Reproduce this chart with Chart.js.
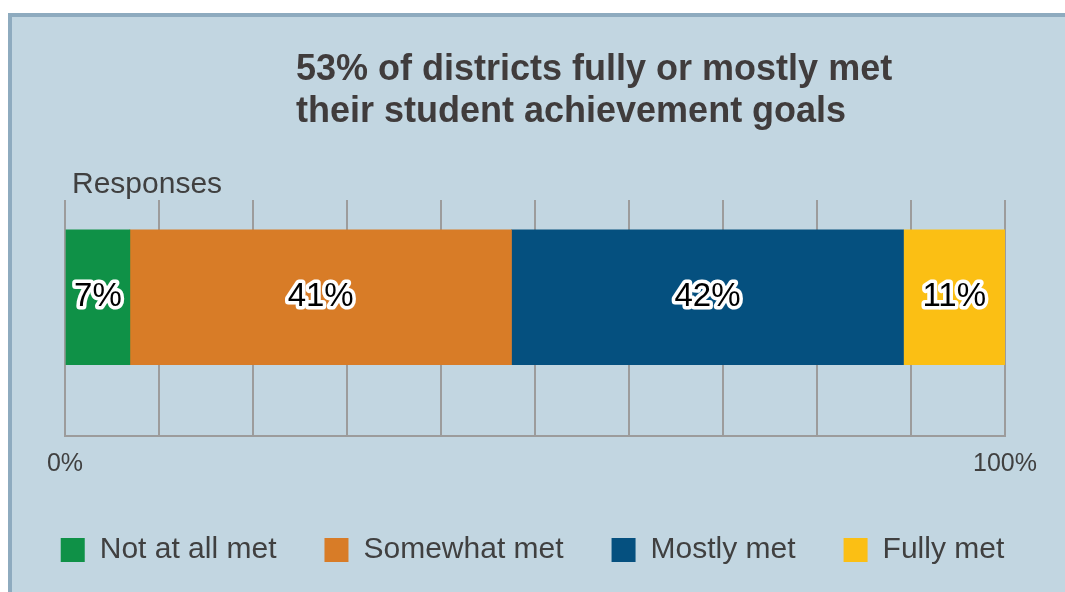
<!DOCTYPE html>
<html>
<head>
<meta charset="utf-8">
<script src="https://cdn.jsdelivr.net/npm/chart.js@4/dist/chart.umd.min.js"></script>
<style>
  body { margin: 0; background: #ffffff; }
  #panel {
    position: absolute; left: 8px; top: 13px; right: 0; bottom: 0;
    background: #c2d6e1;
    border-top: 4px solid #8eabbf;
    border-left: 4px solid #8eabbf;
  }
  #chart { position: absolute; left: 0; top: 0; }
</style>
</head>
<body>
<div id="panel"></div>
<canvas id="chart" width="1065" height="592"></canvas>
<script>
// data (segment widths, shown rounded)
const categories = ["Responses"];
const seriesNames = ["Not at all met", "Somewhat met", "Mostly met", "Fully met"];
const seriesValues = [6.9, 40.6, 41.7, 10.8];
const seriesColors = ["#0f9147", "#d87c27", "#05507f", "#fbbf14"];
const tickLabels = { 0: "0%", 100: "100%" };
const titleLines = ["53% of districts fully or mostly met", "their student achievement goals"];

const FONT = "'Liberation Sans', Arial, sans-serif";
Chart.defaults.font.family = FONT;

// -------------------------------
// title and "Responses" text
// -------------------------------
const textPlugin = {
    id: "texts",
    afterDraw(chart) {
        const ctx = chart.ctx;
        const area = chart.chartArea;
        ctx.save();
        ctx.textAlign = "left";
        ctx.textBaseline = "alphabetic";
        ctx.fillStyle = "#403c3c";
        ctx.font = "bold 36px " + FONT;
        titleLines.forEach((line, i) => ctx.fillText(line, 296, 80 + i * 42));
        ctx.fillStyle = "#404040";
        ctx.font = "30px " + FONT;
        ctx.fillText(categories[0], area.left + 7, 193);
        ctx.restore();
    }
};

// -------------------------------
// percent labels with white outline inside each segment
// -------------------------------
const labelPlugin = {
    id: "segLabels",
    afterDatasetsDraw(chart) {
        const ctx = chart.ctx;
        ctx.save();
        ctx.font = "33px " + FONT;
        ctx.textAlign = "center";
        ctx.textBaseline = "middle";
        ctx.lineJoin = "round";
        chart.data.datasets.forEach((ds, i) => {
            const bar = chart.getDatasetMeta(i).data[0];
            const cx = (bar.x + bar.base) / 2;
            const text = Math.round(ds.data[0].x) + "%";
            ctx.strokeStyle = "#ffffff";
            ctx.lineWidth = 7;
            ctx.strokeText(text, cx, bar.y);
            ctx.fillStyle = "#000000";
            ctx.fillText(text, cx, bar.y);
        });
        ctx.restore();
    }
};

const datasets = seriesNames.map((name, i) => ({
    label: name,
    data: [{ x: seriesValues[i], y: 0 }],
    backgroundColor: seriesColors[i],
    borderWidth: 0,
    barThickness: 135
}));

new Chart(document.getElementById("chart"), {
    type: "bar",
    data: { datasets: datasets },
    plugins: [textPlugin, labelPlugin],
    options: {
        responsive: false,
        animation: false,
        indexAxis: "y",
        layout: { padding: { top: 200, bottom: 17, left: 0, right: 0 } },
        scales: {
            x: {
                type: "linear",
                stacked: true,
                min: 0,
                max: 100,
                position: "bottom",
                afterFit: s => { s.height = 51; },
                grid: { color: "#9c9c9c", lineWidth: 2, drawTicks: false },
                border: { color: "#9c9c9c", width: 2 },
                ticks: {
                    stepSize: 10,
                    autoSkip: false,
                    maxRotation: 0,
                    padding: 13,
                    color: "#404040",
                    font: { size: 25 },
                    callback: v => tickLabels[v] || ""
                }
            },
            y: {
                type: "linear",
                stacked: true,
                min: -1,
                max: 0.67,
                position: "left",
                afterFit: s => { s.width = 65; },
                grid: { display: false },
                border: { display: false },
                ticks: { display: false }
            },
            y2: {
                type: "linear",
                position: "right",
                afterFit: s => { s.width = 60; },
                grid: { display: false },
                border: { display: false },
                ticks: { display: false }
            }
        },
        plugins: {
            title: { display: false },
            tooltip: { enabled: false },
            legend: {
                position: "bottom",
                labels: {
                    boxWidth: 24,
                    boxHeight: 24,
                    padding: 48,
                    color: "#404040",
                    font: { size: 30 }
                }
            }
        }
    }
});
</script>
</body>
</html>
